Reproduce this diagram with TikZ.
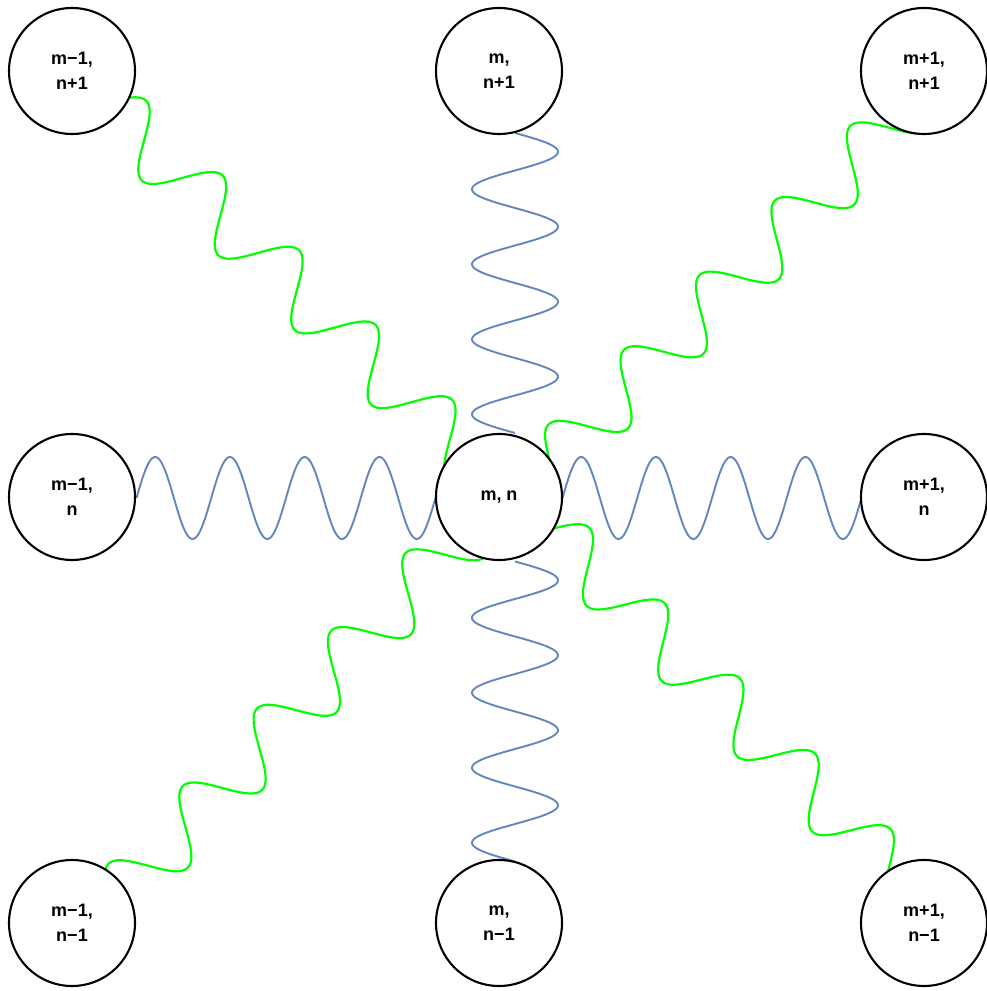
\documentclass[tikz,border=0pt]{standalone}
\usepackage{fontspec}
\setmainfont{Liberation Sans}
\usetikzlibrary{backgrounds}
\definecolor{springblue}{rgb}{0.39,0.53,0.74}
\definecolor{springgreen}{rgb}{0,1,0}
\begin{document}
\begin{tikzpicture}[x=1pt,y=1pt,
  site/.style={circle, draw=black, line width=2.1pt, fill=white, minimum size=126pt,
    inner sep=0pt, align=center, font=\bfseries\fontsize{18}{25}\selectfont},
  bluespring/.style={draw=springblue, line width=1.9pt, line join=round},
  greenspring/.style={draw=springgreen, line width=2.2pt, line join=round}]
\useasboundingbox (0,0) rectangle (987,991);

% lattice sites
\node[site] (NW) at (72,920)  {m−1,\\n+1};
\node[site] (N)  at (499,920) {m,\\n+1};
\node[site] (NE) at (924,920) {m+1,\\n+1};
\node[site] (W)  at (72,494)  {m−1,\\n};
\node[site] (C)  at (499,494) {m, n};
\node[site] (E)  at (924,494) {m+1,\\n};
\node[site] (SW) at (72,68)   {m−1,\\n−1};
\node[site] (S)  at (499,68)  {m,\\n−1};
\node[site] (SE) at (924,68)  {m+1,\\n−1};

\begin{pgfonlayer}{background}
\fill[white] (0,0) rectangle (987,991);

% horizontal springs
\begin{scope}[shift={(W.center)}]
  \draw[bluespring] plot[domain=64.5:363.5, samples=300] (\x, {-1+41*sin((\x-64.5)/74.75*360)});
\end{scope}
\begin{scope}[shift={(C.center)}]
  \draw[bluespring] plot[domain=63.5:362.5, samples=300] (\x, {-1+41*sin((\x-63.5)/74.75*360)});
\end{scope}

% vertical springs
\begin{scope}[shift={(N.center)}]
  \draw[bluespring] plot[domain=62:362, samples=300] ({16+43*sin((\x-62)/75*360)}, {-\x});
\end{scope}
\begin{scope}[shift={(C.center)}]
  \draw[bluespring] plot[domain=64.5:364.5, samples=300] ({16+43*sin((\x-64.5)/75*360)}, {-\x});
\end{scope}

% diagonal springs
\begin{scope}[shift={(NW.center)}, rotate=-45]
  \draw[greenspring] plot[domain=30:575, samples=500] (\x, {0.5+0.0115*\x+30*sin((\x-153.6)/106.9*360)});
\end{scope}
\begin{scope}[shift={(C.center)}, rotate=45]
  \draw[greenspring] plot[domain=30:575, samples=500] (\x, {-12.6-0.0055*\x+29.3*sin((\x-60)/106.1*360)});
\end{scope}
\begin{scope}[shift={(SW.center)}, rotate=45]
  \draw[greenspring] plot[domain=30:575, samples=500] (\x, {-15.5+0.0225*\x+30*sin((\x-148.1)/107.5*360)});
\end{scope}
\begin{scope}[shift={(C.center)}, rotate=-45]
  \draw[greenspring] plot[domain=30:575, samples=500] (\x, {13.5+28.5*sin((\x-59.1)/106.4*360)});
\end{scope}
\end{pgfonlayer}
\end{tikzpicture}
\end{document}
